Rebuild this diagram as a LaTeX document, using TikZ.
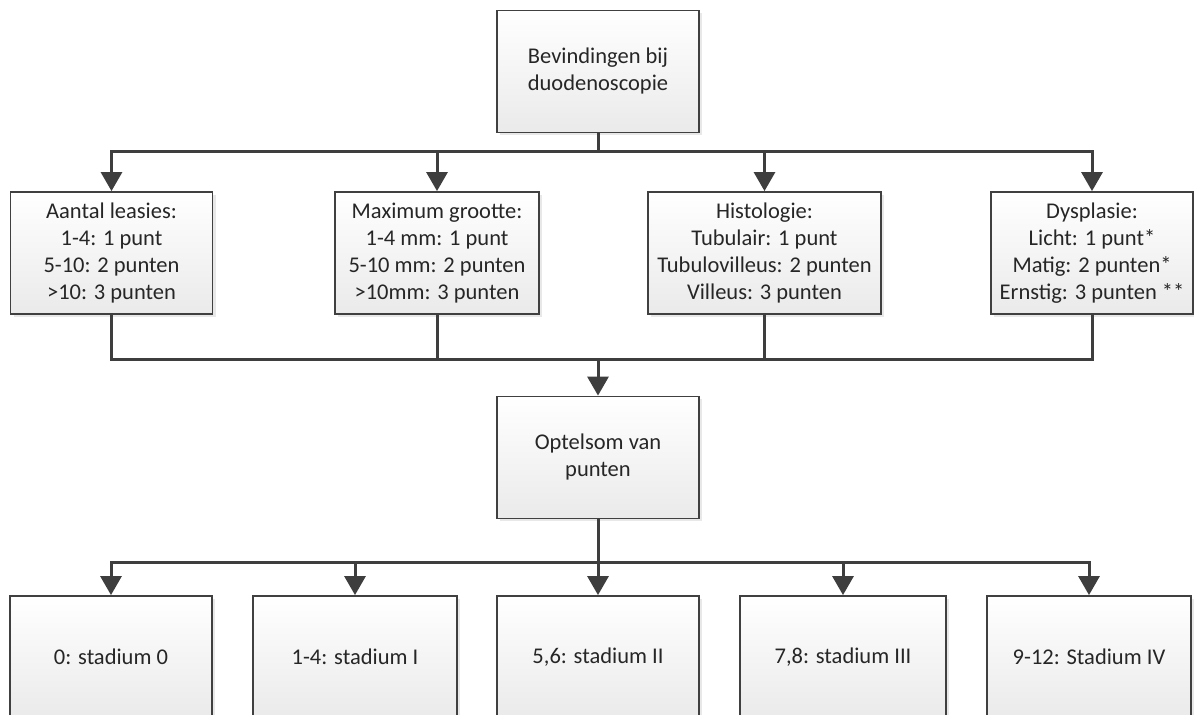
\documentclass[tikz,border=0pt]{standalone}
\usepackage{fontspec}
\setmainfont{Carlito}
\usepackage{tikz}
\usetikzlibrary{calc, positioning, shapes, arrows.meta, shadows}
\definecolor{boxline}{RGB}{64,64,64}
\definecolor{lineclr}{RGB}{62,62,62}
\definecolor{txtclr}{RGB}{38,38,38}
\definecolor{boxbot}{RGB}{234,234,234}
\tikzset{
  block/.style={draw=boxline, line width=0.9pt, top color=white, bottom color=boxbot, align=center, text=txtclr, minimum height=61pt, inner sep=2pt, font=\fontsize{11.25}{13.5}\selectfont, drop shadow={opacity=0.18, shadow xshift=1.5pt, shadow yshift=-1.5pt}},
  conn/.style={draw=lineclr, line width=1.5pt, line cap=rect},
  arr/.style={draw=lineclr, line width=1.5pt, -{Triangle[width=10.5pt,length=9.5pt]}}
}

\begin{document}
\begin{tikzpicture}[x=0.5pt, y=-0.5pt]
\clip (0,0) rectangle (1194,715);
\fill[white] (0,0) rectangle (1194,715);

\node[block, minimum width=101pt] (bev) at (598,71.5) {Bevindingen bij\\duodenoscopie};

\node[block, minimum width=101pt] (les) at (111.5,253) {Aantal leasies:\\1-4: 1 punt\\5-10: 2 punten\\>10: 3 punten};
\node[block, minimum width=102pt] (grootte) at (437,253) {Maximum grootte:\\1-4 mm: 1 punt\\5-10 mm: 2 punten\\>10mm: 3 punten};
\node[block, minimum width=116.5pt] (hist) at (764.5,253) {Histologie:\\Tubulair: 1 punt\\Tubulovilleus: 2 punten\\Villeus: 3 punten};
\node[block, minimum width=101pt] (dys) at (1092,253) {Dysplasie:\\Licht: 1 punt*\\Matig: 2 punten*\\Ernstig: 3 punten **};

\node[block, minimum width=101pt] (sum) at (598,457.5) {Optelsom van\\punten};

\node[block, minimum width=101pt] (st0) at (111,657) {0: stadium 0};
\node[block, minimum width=102pt] (st1) at (355,657) {1-4: stadium I};
\node[block, minimum width=101pt] (st2) at (598,657) {5,6: stadium II};
\node[block, minimum width=103pt] (st3) at (843,657) {7,8: stadium III};
\node[block, minimum width=102pt] (st4) at (1089,657) {9-12: Stadium IV};

\coordinate (bus1) at (598,152);
\coordinate (bus2) at (598,360);
\coordinate (bus3) at (598,563);

\draw[conn] (bev.south) -- (bus1);
\draw[conn] (les.north |- bus1) -- (dys.north |- bus1);
\draw[arr] (les.north |- bus1) -- (les.north);
\draw[arr] (grootte.north |- bus1) -- (grootte.north);
\draw[arr] (hist.north |- bus1) -- (hist.north);
\draw[arr] (dys.north |- bus1) -- (dys.north);

\draw[conn] (les.south) -- (les.south |- bus2);
\draw[conn] (grootte.south) -- (grootte.south |- bus2);
\draw[conn] (hist.south) -- (hist.south |- bus2);
\draw[conn] (dys.south) -- (dys.south |- bus2);
\draw[conn] (les.south |- bus2) -- (dys.south |- bus2);
\draw[arr] (bus2) -- (sum.north);

\draw[conn] (sum.south) -- (bus3);
\draw[conn] (st0.north |- bus3) -- (st4.north |- bus3);
\draw[arr] (st0.north |- bus3) -- (st0.north);
\draw[arr] (st1.north |- bus3) -- (st1.north);
\draw[arr] (st2.north |- bus3) -- (st2.north);
\draw[arr] (st3.north |- bus3) -- (st3.north);
\draw[arr] (st4.north |- bus3) -- (st4.north);

\end{tikzpicture}
\end{document}
